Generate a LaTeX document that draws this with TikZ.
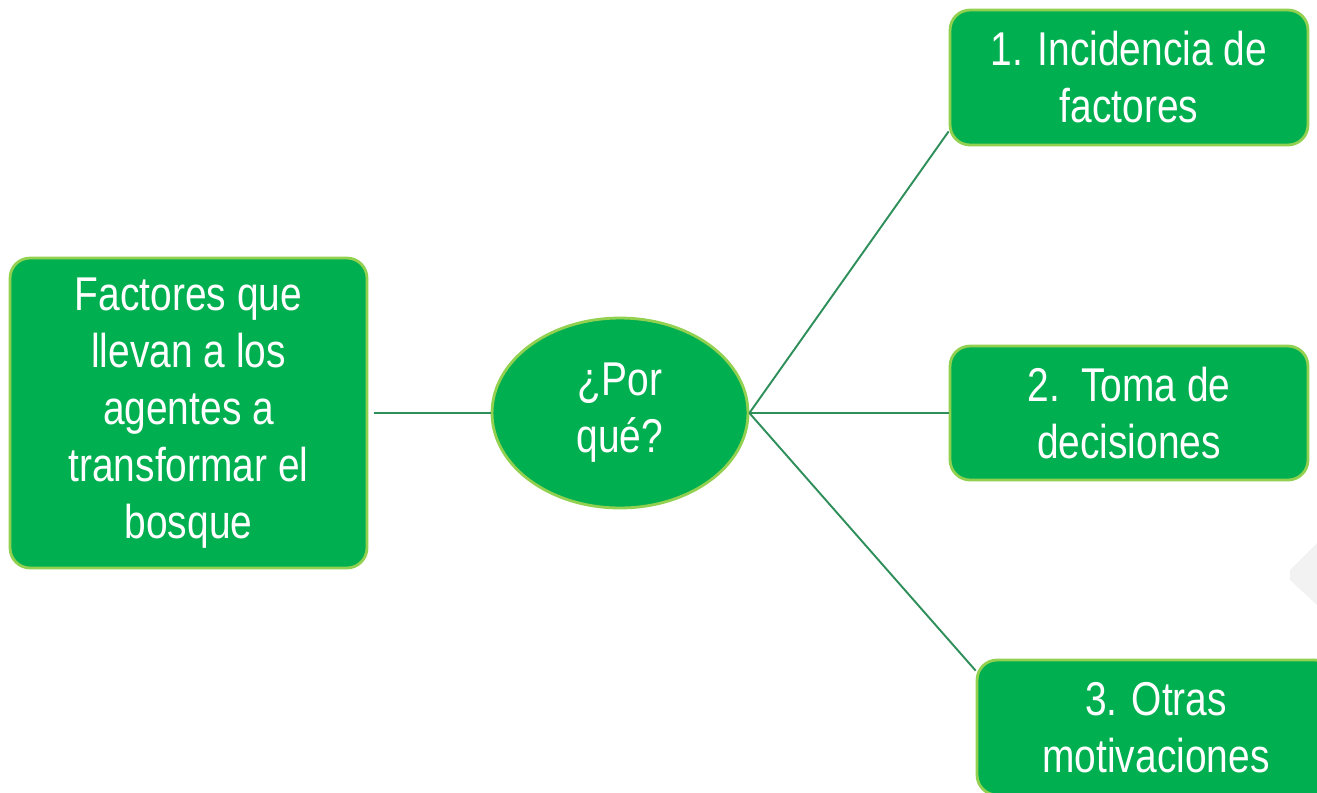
\documentclass[tikz,border=0pt]{standalone}
\usepackage{fontspec}
\setmainfont[FakeStretch=0.82]{Liberation Sans}
\usetikzlibrary{shapes.geometric}

\definecolor{boxgreen}{HTML}{00B050}
\definecolor{rimgreen}{HTML}{92D050}
\definecolor{linkgreen}{HTML}{2F8F5B}
\definecolor{ghostgray}{HTML}{F2F2F2}

\tikzset{
  bigfont/.style={font=\fontsize{27}{32.4}\selectfont},
  greenbox/.style={draw=rimgreen, line width=1.6pt, fill=boxgreen, text=white,
    rounded corners=0.4cm, align=center, inner sep=0pt, bigfont},
  greenoval/.style={ellipse, draw=rimgreen, line width=1.6pt, fill=boxgreen,
    text=white, align=center, inner sep=0pt, bigfont},
  link/.style={draw=linkgreen, line width=1.1pt}
}

\begin{document}
\begin{tikzpicture}[x=0.02cm, y=-0.02cm]
\useasboundingbox (0,0) rectangle (1317,792);
\clip (0,0) rectangle (1317,792);

% Faint shape at the right edge
\fill [ghostgray] (1290,570) -- (1317,543) -- (1317,605) -- (1290,580) -- cycle;

% Left box and the question
\node [greenbox, minimum width=7.14cm, minimum height=6.2cm] (factores) at (188.5,413)
  {Factores que\\llevan a los\\agentes a\\transformar el\\bosque};
\node [greenoval, minimum width=5.12cm, minimum height=3.8cm] (porque) at (620,413)
  {¿Por\\qué?};

% The three answers
\node [greenbox, minimum width=7.16cm, minimum height=2.7cm] (incidencia) at (1129,77.5)
  {1. Incidencia de\\factores};
\node [greenbox, minimum width=7.16cm, minimum height=2.68cm] (toma) at (1129,413)
  {2.\ \ Toma de\\decisiones};
\node [greenbox, minimum width=7.16cm, minimum height=2.7cm] (otras) at (1156,727.5)
  {3. Otras\\motivaciones};

% Connectors
\draw [link, shorten <=0.12cm] (factores.east) -- (porque.west);
\draw [link] (porque.east) -- ([yshift=0.3cm]incidencia.south west);
\draw [link] (porque.east) -- (toma.west);
\draw [link] (porque.east) -- ([yshift=-0.24cm]otras.north west);

\end{tikzpicture}
\end{document}
